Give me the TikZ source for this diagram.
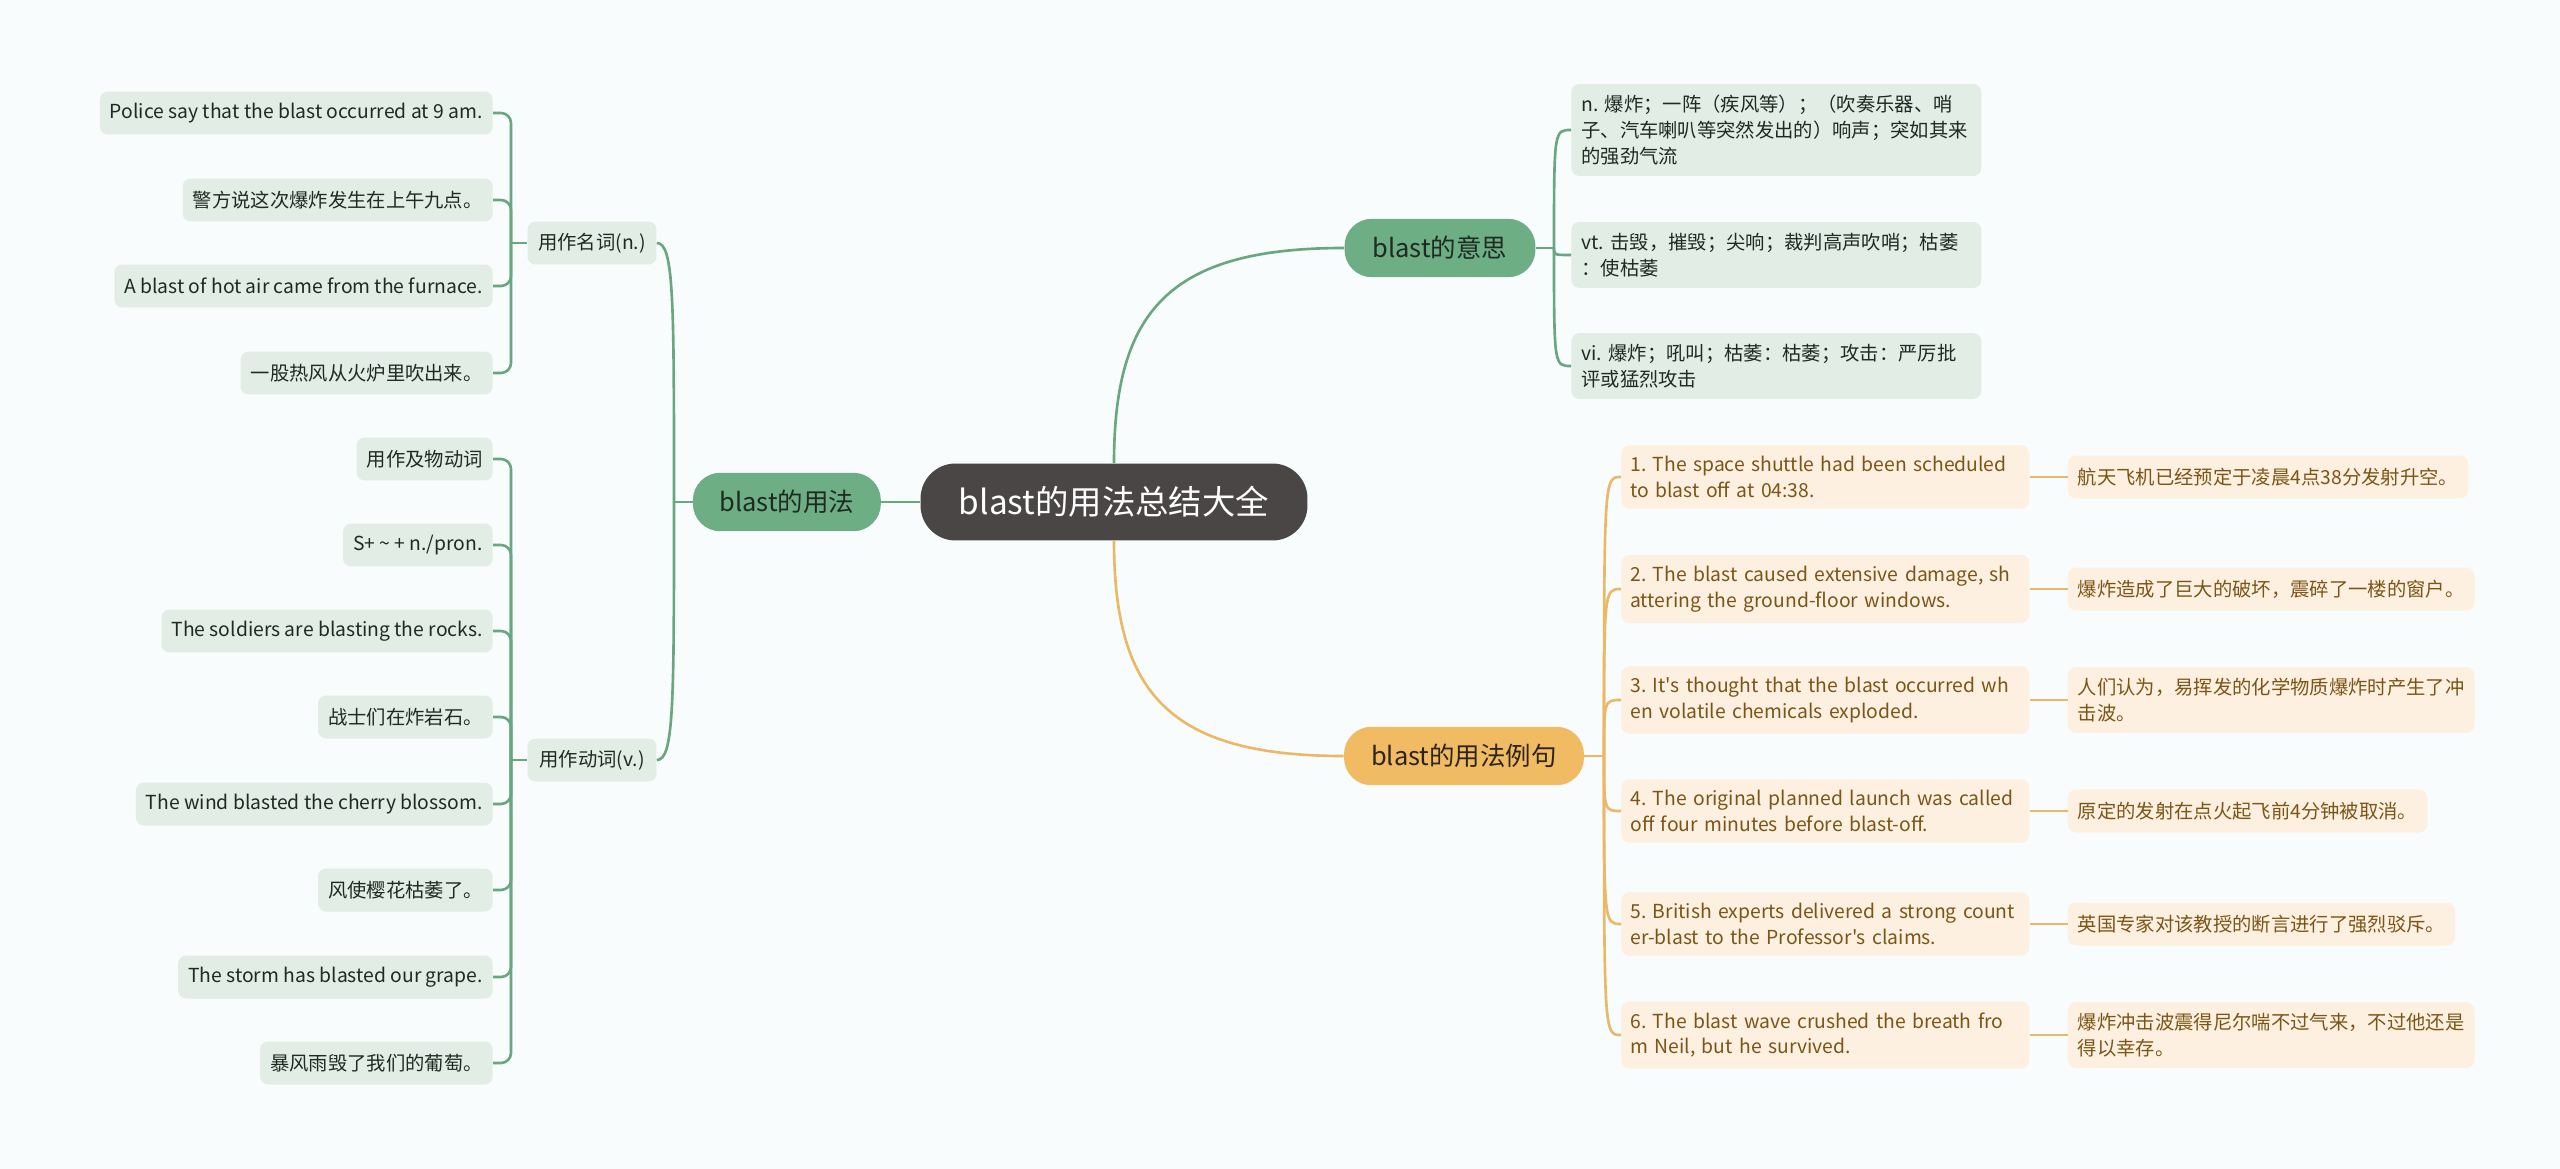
\documentclass[tikz,border=0pt]{standalone}
\usepackage{fontspec}
\setmainfont{Noto Sans CJK SC}[Ligatures=TeXOff]
\usetikzlibrary{positioning}
\definecolor{bgc}{HTML}{F8FCFC}
\definecolor{rootgray}{HTML}{4A4646}
\definecolor{topicgreen}{HTML}{6EAE85}
\definecolor{topicorange}{HTML}{F0BB62}
\definecolor{leafgreen}{HTML}{E2EDE5}
\definecolor{leaforange}{HTML}{FDF0E0}
\definecolor{linegreen}{HTML}{6AA680}
\definecolor{lineorange}{HTML}{EBB867}
\definecolor{inkdark}{HTML}{1F2A23}
\definecolor{inkbrown}{HTML}{2D2416}
\definecolor{inkgold}{HTML}{7B5516}
\newcommand\rootfont{\fontsize{19pt}{22pt}\selectfont}
\newcommand\topicfont{\fontsize{14.5pt}{17pt}\selectfont}
\newcommand\leaffont{\fontsize{11pt}{14.7pt}\selectfont\frenchspacing}

\begin{document}
\begin{tikzpicture}[x=0.02cm,y=-0.02cm,
  root/.style={fill=rootgray,text=white,rounded corners=0.7cm,minimum width=7.74cm,minimum height=1.54cm,font=\rootfont},
  topicg/.style={fill=topicgreen,text=inkdark,rounded corners=0.55cm,minimum height=1.17cm,font=\topicfont},
  topico/.style={topicg,fill=topicorange,text=inkbrown},
  subg/.style={fill=leafgreen,text=inkdark,rounded corners=0.16cm,minimum width=2.58cm,minimum height=0.86cm,font=\leaffont},
  leafg/.style={fill=leafgreen,text=inkdark,rounded corners=0.16cm,inner xsep=0.2cm,minimum height=0.86cm,anchor=east,font=\leaffont},
  meang/.style={fill=leafgreen,text=inkdark,rounded corners=0.16cm,inner xsep=0.2cm,inner ysep=0.22cm,text width=7.8cm,align=left,anchor=west,font=\leaffont},
  exo/.style={fill=leaforange,text=inkgold,rounded corners=0.16cm,inner xsep=0.18cm,inner ysep=0.22cm,text width=7.8cm,align=left,anchor=west,font=\leaffont},
  tro/.style={fill=leaforange,text=inkgold,rounded corners=0.16cm,inner xsep=0.2cm,inner ysep=0.22cm,align=left,minimum height=0.86cm,font=\leaffont},
  gline/.style={draw=linegreen,line width=1.5pt},
  oline/.style={draw=lineorange,line width=1.5pt},
  brace/.style={rounded corners=0.2cm}]
  \fill[bgc] (0,0) rectangle (2560,1169);

  \node[root] (root) at (1114,502) {blast的用法总结大全};
  \node[topicg,minimum width=3.76cm,left=0.78cm of root] (use) {blast的用法};
  \node[topicg,minimum width=3.82cm] (mean) at (1440,248) {blast的意思};
  \node[topico,minimum width=4.8cm] (exam) at (1464,756) {blast的用法例句};

  \node[subg] (n) at (592,243) {用作名词(n.)};
  \node[subg] (v) at (592,760) {用作动词(v.)};

  \node[leafg] (n1) at (493,113) {Police say that the blast occurred at 9 am.};
  \node[leafg] (n2) at (493,200) {警方说这次爆炸发生在上午九点。};
  \node[leafg] (n3) at (493,286) {A blast of hot air came from the furnace.};
  \node[leafg] (n4) at (493,373) {一股热风从火炉里吹出来。};

  \node[leafg] (v1) at (493,459) {用作及物动词};
  \node[leafg] (v2) at (493,545) {S+ \textasciitilde{} + n./pron.};
  \node[leafg] (v3) at (493,631) {The soldiers are blasting the rocks.};
  \node[leafg] (v4) at (493,717) {战士们在炸岩石。};
  \node[leafg] (v5) at (493,804) {The wind blasted the cherry blossom.};
  \node[leafg] (v6) at (493,890) {风使樱花枯萎了。};
  \node[leafg] (v7) at (493,977) {The storm has blasted our grape.};
  \node[leafg] (v8) at (493,1063) {暴风雨毁了我们的葡萄。};

  \node[meang] (m1) at (1571,130) {n. 爆炸；一阵（疾风等）；（吹奏乐器、哨\\子、汽车喇叭等突然发出的）响声；突如其来\\的强劲气流};
  \node[meang] (m2) at (1571,255) {vt. 击毁，摧毁；尖响；裁判高声吹哨；枯萎\\：使枯萎};
  \node[meang] (m3) at (1571,366) {vi. 爆炸；吼叫；枯萎：枯萎；攻击：严厉批\\评或猛烈攻击};

  \node[exo] (e1) at (1621,477) {1. The space shuttle had been scheduled\\to blast off at 04:38.};
  \node[exo] (e2) at (1621,589) {2. The blast caused extensive damage, sh\\attering the ground-floor windows.};
  \node[exo] (e3) at (1621,700) {3. It's thought that the blast occurred wh\\en volatile chemicals exploded.};
  \node[exo] (e4) at (1621,811) {4. The original planned launch was called\\off four minutes before blast-off.};
  \node[exo] (e5) at (1621,924) {5. British experts delivered a strong count\\er-blast to the Professor's claims.};
  \node[exo] (e6) at (1621,1035) {6. The blast wave crushed the breath fro\\m Neil, but he survived.};

  \node[tro,right=0.76cm of e1] (t1) {航天飞机已经预定于凌晨4点38分发射升空。};
  \node[tro,right=0.76cm of e2] (t2) {爆炸造成了巨大的破坏，震碎了一楼的窗户。};
  \node[tro,right=0.76cm of e3] (t3) {人们认为，易挥发的化学物质爆炸时产生了冲\\击波。};
  \node[tro,right=0.76cm of e4] (t4) {原定的发射在点火起飞前4分钟被取消。};
  \node[tro,right=0.76cm of e5] (t5) {英国专家对该教授的断言进行了强烈驳斥。};
  \node[tro,right=0.76cm of e6] (t6) {爆炸冲击波震得尼尔喘不过气来，不过他还是\\得以幸存。};

  \coordinate (lb) at (674,502);
  \coordinate (nb) at (511,243);
  \coordinate (vb) at (511,760);
  \coordinate (mb) at (1554,248);
  \coordinate (eb) at (1604,756);

  \draw[gline] (root.west) -- (use.east);
  \draw[gline] (root.north) .. controls (1114,310) and (1170,248) .. (mean.west);
  \draw[oline] (root.south) .. controls (1114,694) and (1170,756) .. (exam.west);

  \draw[gline] (use.west) -- (lb);
  \draw[gline] (lb) .. controls (674,300) and (674,243) .. (n.east);
  \draw[gline] (lb) .. controls (674,704) and (674,760) .. (v.east);

  \draw[gline] (n.west) -- (nb);
  \draw[gline,brace] (n1.east) -| (nb);
  \draw[gline,brace] (n2.east) -| (nb);
  \draw[gline,brace] (n3.east) -| (nb);
  \draw[gline,brace] (n4.east) -| (nb);

  \draw[gline] (v.west) -- (vb);
  \draw[gline,brace] (v1.east) -| (vb);
  \draw[gline,brace] (v2.east) -| (vb);
  \draw[gline,brace] (v3.east) -| (vb);
  \draw[gline,brace] (v4.east) -| (vb);
  \draw[gline,brace] (v5.east) -| (vb);
  \draw[gline,brace] (v6.east) -| (vb);
  \draw[gline,brace] (v7.east) -| (vb);
  \draw[gline,brace] (v8.east) -| (vb);

  \draw[gline] (mean.east) -- (mb);
  \draw[gline] (mb) .. controls (1554,130) and (1554,130) .. (m1.west);
  \draw[gline] (mb) .. controls (1554,255) and (1554,255) .. (m2.west);
  \draw[gline] (mb) .. controls (1554,366) and (1554,366) .. (m3.west);

  \draw[oline] (exam.east) -- (eb);
  \draw[oline] (eb) .. controls (1604,477) and (1604,477) .. (e1.west);
  \draw[oline] (eb) .. controls (1604,589) and (1604,589) .. (e2.west);
  \draw[oline] (eb) .. controls (1604,700) and (1604,700) .. (e3.west);
  \draw[oline] (eb) .. controls (1604,811) and (1604,811) .. (e4.west);
  \draw[oline] (eb) .. controls (1604,924) and (1604,924) .. (e5.west);
  \draw[oline] (eb) .. controls (1604,1035) and (1604,1035) .. (e6.west);

  \draw[oline] (e1.east) -- (t1.west);
  \draw[oline] (e2.east) -- (t2.west);
  \draw[oline] (e3.east) -- (t3.west);
  \draw[oline] (e4.east) -- (t4.west);
  \draw[oline] (e5.east) -- (t5.west);
  \draw[oline] (e6.east) -- (t6.west);
\end{tikzpicture}
\end{document}
